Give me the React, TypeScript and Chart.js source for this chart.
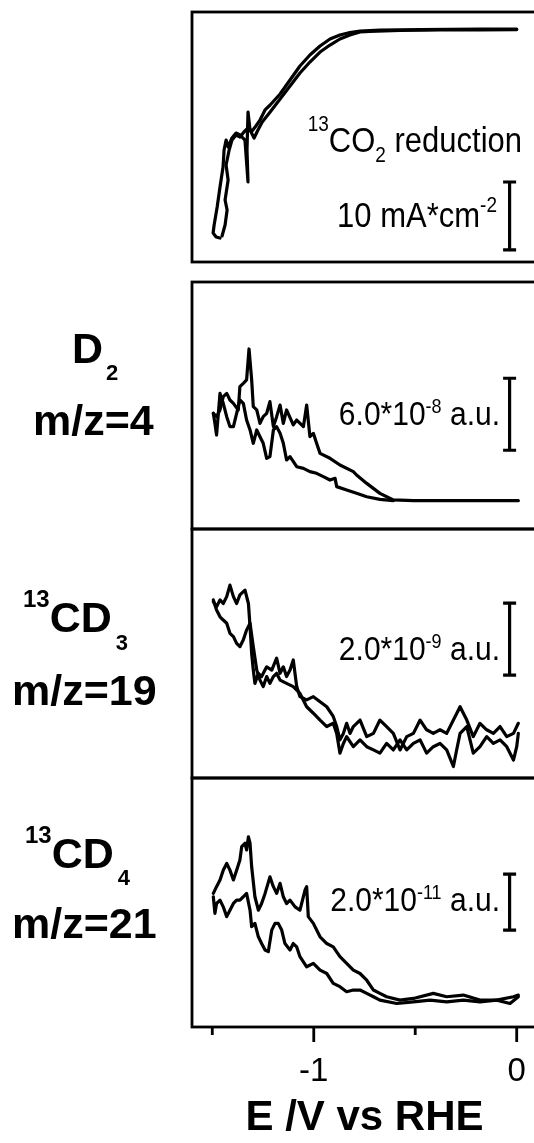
import React, { useEffect, useRef } from 'react';
import { Chart, registerables } from 'chart.js';

Chart.register(...registerables);

const FONT = '"Liberation Sans", Arial, Helvetica, sans-serif';

// ---------- shared potential axis ----------
const E_MIN = -1.6;
const E_MAX = 0.1;
const E_TICKS = [-1.5, -1, -0.5, 0];
const E_TICK_LABELS = ['', '-1', '', '0'];
const E_AXIS_TITLE = 'E /V vs RHE';

// ---------- panel 1: 13CO2 reduction current (mA cm^-2) ----------
const CV_FWD_E = [0.0, -0.18, -0.38, -0.575, -0.723, -0.772, -0.822, -0.871, -0.92, -0.969, -1.019, -1.068, -1.117, -1.166, -1.215, -1.254, -1.275, -1.294, -1.314, -1.324, -1.329, -1.324, -1.339, -1.363, -1.383, -1.403, -1.422, -1.432, -1.442, -1.447, -1.462, -1.476, -1.491, -1.496, -1.481, -1.462];
const CV_FWD_J = [0.07, 0.0, 0.0, -0.07, -0.22, -0.29, -0.74, -1.32, -2.21, -3.24, -4.71, -6.32, -8.24, -10.15, -12.06, -13.53, -14.71, -15.88, -14.71, -12.06, -17.65, -22.35, -16.18, -15.44, -15.15, -15.88, -17.21, -16.18, -17.65, -20.15, -23.09, -26.03, -28.68, -29.85, -30.44, -30.59];
const CV_REV_E = [-1.452, -1.437, -1.427, -1.437, -1.422, -1.432, -1.417, -1.403, -1.383, -1.363, -1.344, -1.324, -1.304, -1.285, -1.265, -1.24, -1.215, -1.166, -1.117, -1.068, -1.019, -0.969, -0.92, -0.871, -0.822, -0.772, -0.674, -0.477, -0.181, 0.0];
const CV_REV_J = [-30.29, -28.68, -26.47, -25.0, -22.06, -19.85, -17.65, -16.18, -15.44, -15.74, -15.0, -14.41, -14.85, -14.12, -13.24, -11.76, -11.03, -9.41, -7.35, -5.29, -3.68, -2.35, -1.32, -0.74, -0.37, -0.15, 0.0, 0.07, 0.15, 0.15];

// ---------- panel 2: D2, m/z=4 (1e-8 a.u.) ----------
const D2_A_E = [-1.495, -1.479, -1.462, -1.446, -1.429, -1.413, -1.396, -1.372, -1.364, -1.347, -1.331, -1.319, -1.306, -1.298, -1.281, -1.265, -1.249, -1.232, -1.216, -1.199, -1.183, -1.166, -1.15, -1.134, -1.101, -1.084, -1.051, -1.035, -1.019, -1.002, -0.986, -0.969, -0.92, -0.871, -0.805, -0.789, -0.739, -0.674, -0.608, -0.509, -0.345, -0.181, 0.008];
const D2_A_I = [7.28, 7.0, 7.56, 8.67, 8.94, 8.39, 8.11, 7.56, 9.5, 9.78, 10.06, 12.64, 10.06, 7.83, 7.56, 6.44, 7.0, 7.28, 8.25, 6.17, 7.0, 7.97, 6.44, 7.56, 6.31, 6.72, 6.17, 7.97, 5.33, 5.61, 4.78, 3.94, 3.53, 2.97, 2.42, 2.14, 1.44, 0.61, 0.06, 0, 0, 0, 0];
const D2_B_E = [-1.495, -1.487, -1.479, -1.462, -1.446, -1.429, -1.413, -1.396, -1.38, -1.364, -1.347, -1.331, -1.314, -1.298, -1.281, -1.265, -1.249, -1.232, -1.216, -1.199, -1.183, -1.166, -1.15, -1.134, -1.117, -1.084, -1.051, -1.019, -0.986, -0.953, -0.92, -0.895, -0.887, -0.838, -0.789, -0.739, -0.674, -0.608];
const D2_B_I = [7.28, 6.44, 5.47, 8.94, 8.11, 7.0, 6.17, 6.17, 7.28, 8.39, 8.11, 6.72, 5.89, 4.78, 5.89, 5.33, 4.78, 3.53, 3.67, 5.89, 6.17, 5.61, 4.78, 3.39, 3.67, 2.83, 2.69, 2.42, 2.28, 2.0, 1.72, 1.86, 1.17, 0.89, 0.61, 0.33, 0.11, 0];

// ---------- panel 3: 13CD3, m/z=19 (1e-9 a.u.) ----------
const CD3_A_E = [-1.495, -1.479, -1.462, -1.446, -1.429, -1.413, -1.396, -1.38, -1.364, -1.339, -1.322, -1.314, -1.306, -1.298, -1.29, -1.273, -1.257, -1.232, -1.207, -1.183, -1.166, -1.15, -1.134, -1.117, -1.101, -1.084, -1.068, -1.035, -1.002, -0.969, -0.936, -0.904, -0.887, -0.871, -0.854, -0.838, -0.821, -0.805, -0.772, -0.739, -0.706, -0.674, -0.641, -0.608, -0.575, -0.542, -0.509, -0.476, -0.444, -0.411, -0.378, -0.345, -0.312, -0.279, -0.246, -0.214, -0.181, -0.148, -0.115, -0.082, -0.049, -0.016, 0.008];
const CD3_A_I = [3.75, 3.61, 3.8, 3.7, 3.89, 4.21, 3.89, 3.7, 3.94, 4.07, 3.7, 3.06, 2.31, 1.85, 1.48, 1.76, 1.67, 1.94, 1.85, 2.18, 1.76, 1.94, 1.67, 1.85, 2.13, 1.39, 1.11, 1.02, 1.11, 0.97, 0.83, 0.56, 0.28, -0.09, 0.09, 0.37, 0.09, 0.28, 0.46, 0, 0.09, 0.46, 0.28, 0.09, -0.37, 0, 0.09, 0.46, 0.19, 0.09, 0.19, 0.09, 0.46, 0.83, 0.46, 0, 0.37, 0.19, 0.09, 0.28, 0, 0.09, 0.37];
const CD3_B_E = [-1.495, -1.479, -1.462, -1.446, -1.429, -1.413, -1.396, -1.38, -1.364, -1.347, -1.331, -1.314, -1.298, -1.281, -1.265, -1.249, -1.232, -1.216, -1.199, -1.183, -1.166, -1.134, -1.101, -1.068, -1.035, -1.002, -0.969, -0.936, -0.904, -0.887, -0.871, -0.854, -0.838, -0.805, -0.772, -0.739, -0.706, -0.674, -0.641, -0.608, -0.575, -0.542, -0.509, -0.476, -0.444, -0.411, -0.378, -0.345, -0.312, -0.296, -0.279, -0.246, -0.214, -0.181, -0.148, -0.115, -0.082, -0.049, -0.016, 0.0, 0.008];
const CD3_B_I = [3.8, 3.52, 3.33, 3.24, 3.15, 2.87, 2.78, 2.59, 2.5, 2.69, 2.96, 3.15, 2.5, 1.85, 1.57, 1.39, 1.67, 1.48, 1.67, 1.76, 1.57, 1.48, 1.39, 1.2, 0.83, 0.65, 0.46, 0.28, 0.37, 0.09, -0.46, -0.19, 0, -0.28, -0.09, -0.28, -0.37, -0.46, -0.19, -0.37, -0.09, -0.37, -0.19, -0.09, -0.46, -0.28, -0.19, -0.37, -0.83, -0.37, 0.09, 0.28, -0.46, -0.28, 0, -0.19, -0.09, -0.28, -0.65, -0.28, 0.09];

// ---------- panel 4: 13CD4, m/z=21 (1e-11 a.u.) ----------
const CD4_A_E = [-1.495, -1.479, -1.462, -1.446, -1.429, -1.413, -1.396, -1.38, -1.364, -1.355, -1.339, -1.331, -1.322, -1.314, -1.306, -1.29, -1.273, -1.257, -1.24, -1.216, -1.199, -1.183, -1.166, -1.15, -1.134, -1.117, -1.092, -1.068, -1.043, -1.035, -1.027, -1.002, -0.969, -0.936, -0.904, -0.871, -0.838, -0.805, -0.772, -0.739, -0.706, -0.674, -0.641, -0.575, -0.509, -0.411, -0.345, -0.263, -0.181, -0.099, -0.016, 0.008];
const CD4_A_I = [3.81, 4.05, 4.29, 4.64, 4.88, 4.64, 4.29, 4.64, 5.0, 5.48, 5.6, 5.36, 5.83, 5.6, 4.76, 3.69, 3.21, 3.45, 3.81, 4.4, 4.05, 3.81, 4.17, 3.69, 3.45, 3.57, 3.33, 3.21, 3.93, 4.05, 2.98, 2.74, 2.26, 2.02, 1.9, 1.55, 1.31, 1.07, 0.95, 0.71, 0.36, 0.24, 0.12, 0, 0.06, 0.24, 0.12, 0.18, 0, 0, 0.12, 0.18];
const CD4_B_E = [-1.495, -1.487, -1.479, -1.462, -1.446, -1.429, -1.413, -1.396, -1.38, -1.364, -1.347, -1.331, -1.314, -1.306, -1.29, -1.273, -1.257, -1.24, -1.224, -1.207, -1.191, -1.175, -1.158, -1.142, -1.117, -1.101, -1.084, -1.068, -1.035, -1.002, -0.969, -0.936, -0.904, -0.871, -0.838, -0.805, -0.772, -0.739, -0.706, -0.674, -0.591, -0.509, -0.427, -0.345, -0.263, -0.181, -0.099, -0.033, 0.008];
const CD4_B_I = [3.69, 3.1, 3.45, 3.57, 3.33, 2.98, 3.21, 3.45, 3.57, 3.57, 3.69, 3.81, 3.21, 2.62, 2.74, 2.26, 2.02, 1.79, 1.73, 2.5, 2.74, 2.74, 2.5, 2.02, 1.79, 2.02, 1.9, 1.55, 1.19, 1.31, 1.07, 0.95, 0.6, 0.48, 0.3, 0.36, 0.36, 0.24, 0.12, 0, -0.12, -0.06, 0, -0.06, 0, -0.06, 0, -0.12, 0.12];

// ---------- scale bars (data units of each panel) ----------
const BAR_E = -0.035;
const BAR_LEN = [10, 6, 2, 2];
const BAR_BASE = [-32.35, 4.2, 1.71, 2.5];
const Y_RANGES: [number, number][] = [[-34.12, 2.65], [-2.36, 18.22], [-1.15, 5.77], [-0.96, 7.93]];

type Seg = { t: string; size: number; bold?: boolean; dy?: number; gap?: number };
type TextItem = { segs: Seg[]; x: number; y: number; align: 'left' | 'right'; sy?: number };

type PanelCfg = {
  top: number;
  bottom: number;
  series: [number[], number[]][];
  yr: [number, number];
  barLen: number;
  barBase: number;
  texts: TextItem[];
  showX: boolean;
};

const AXIS_H = 117;
const SY = 1.13;

const PANELS: PanelCfg[] = [
  {
    top: 12, bottom: 262,
    series: [[CV_FWD_E, CV_FWD_J], [CV_REV_E, CV_REV_J]],
    yr: Y_RANGES[0], barLen: BAR_LEN[0], barBase: BAR_BASE[0], showX: false,
    texts: [
      { segs: [{ t: '13', size: 19, dy: -21 }, { t: 'CO', size: 31 }, { t: '2', size: 19, dy: 10 }, { t: ' reduction', size: 31 }], x: 522, y: 152, align: 'right', sy: SY },
      { segs: [{ t: '10 mA*cm', size: 31 }, { t: '-2', size: 19, dy: -15 }], x: 497, y: 227, align: 'right', sy: SY },
    ],
  },
  {
    top: 282, bottom: 529,
    series: [[D2_A_E, D2_A_I], [D2_B_E, D2_B_I]],
    yr: Y_RANGES[1], barLen: BAR_LEN[1], barBase: BAR_BASE[1], showX: false,
    texts: [
      { segs: [{ t: '6.0*10', size: 30 }, { t: '-8', size: 18, dy: -12 }, { t: ' a.u.', size: 30 }], x: 500, y: 425, align: 'right', sy: SY },
      { segs: [{ t: 'D', size: 43, bold: true }, { t: '2', size: 22, bold: true, dy: 17, gap: 3 }], x: 72, y: 363, align: 'left' },
      { segs: [{ t: 'm/z=4', size: 43, bold: true }], x: 33, y: 435, align: 'left' },
    ],
  },
  {
    top: 529, bottom: 778,
    series: [[CD3_A_E, CD3_A_I], [CD3_B_E, CD3_B_I]],
    yr: Y_RANGES[2], barLen: BAR_LEN[2], barBase: BAR_BASE[2], showX: false,
    texts: [
      { segs: [{ t: '2.0*10', size: 30 }, { t: '-9', size: 18, dy: -12 }, { t: ' a.u.', size: 30 }], x: 500, y: 660, align: 'right', sy: SY },
      { segs: [{ t: '13', size: 24, bold: true, dy: -25 }, { t: 'CD', size: 43, bold: true }, { t: '3', size: 22, bold: true, dy: 18, gap: 4 }], x: 23, y: 632, align: 'left' },
      { segs: [{ t: 'm/z=19', size: 43, bold: true }], x: 12, y: 705, align: 'left' },
    ],
  },
  {
    top: 778, bottom: 1027,
    series: [[CD4_A_E, CD4_A_I], [CD4_B_E, CD4_B_I]],
    yr: Y_RANGES[3], barLen: BAR_LEN[3], barBase: BAR_BASE[3], showX: true,
    texts: [
      { segs: [{ t: '2.0*10', size: 30 }, { t: '-11', size: 18, dy: -12 }, { t: ' a.u.', size: 30 }], x: 500, y: 911, align: 'right', sy: SY },
      { segs: [{ t: '13', size: 24, bold: true, dy: -25 }, { t: 'CD', size: 43, bold: true }, { t: '4', size: 22, bold: true, dy: 17, gap: 4 }], x: 25, y: 868, align: 'left' },
      { segs: [{ t: 'm/z=21', size: 43, bold: true }], x: 12, y: 938, align: 'left' },
    ],
  },
];

const PAD = 4;
const CANVAS_W = 560;
const PLOT_LEFT = 192;
const PLOT_RIGHT_PAD = 23;

function fontOf(s: Seg) {
  return `${s.bold ? 'bold ' : ''}${s.size}px ${FONT}`;
}

function drawRich(ctx: CanvasRenderingContext2D, item: TextItem, offY: number) {
  let total = 0;
  const widths = item.segs.map((s) => {
    ctx.font = fontOf(s);
    const w = ctx.measureText(s.t).width + (s.gap || 0);
    total += w;
    return w;
  });
  let x = item.align === 'right' ? item.x - total : item.x;
  const sy = item.sy || 1;
  ctx.textAlign = 'left';
  ctx.textBaseline = 'alphabetic';
  ctx.fillStyle = '#000';
  item.segs.forEach((s, i) => {
    ctx.font = fontOf(s);
    ctx.save();
    ctx.translate(x + (s.gap || 0), item.y - offY + (s.dy || 0));
    ctx.scale(1, sy);
    ctx.fillText(s.t, 0, 0);
    ctx.restore();
    x += widths[i];
  });
}

function PanelChart({ cfg }: { cfg: PanelCfg }) {
  const ref = useRef<HTMLCanvasElement>(null);
  const canvasTop = cfg.top - PAD;
  const canvasH = cfg.bottom - cfg.top + PAD + (cfg.showX ? AXIS_H : PAD);

  useEffect(() => {
    const overlay = {
      id: 'overlay',
      afterDraw(chart: any) {
        const ctx: CanvasRenderingContext2D = chart.ctx;
        const { left, right, top, bottom } = chart.chartArea;
        const xs = chart.scales.x;
        const ys = chart.scales.y;
        ctx.save();
        ctx.strokeStyle = '#000';
        ctx.lineWidth = 2.8;
        ctx.strokeRect(left, top, right - left, bottom - top);
        // scale bar
        const bx = xs.getPixelForValue(BAR_E);
        const b0 = ys.getPixelForValue(cfg.barBase);
        const b1 = ys.getPixelForValue(cfg.barBase + cfg.barLen);
        ctx.lineWidth = 3.2;
        ctx.beginPath();
        ctx.moveTo(bx, b0);
        ctx.lineTo(bx, b1);
        ctx.moveTo(bx - 6.5, b0);
        ctx.lineTo(bx + 6.5, b0);
        ctx.moveTo(bx - 6.5, b1);
        ctx.lineTo(bx + 6.5, b1);
        ctx.stroke();
        // x tick marks
        if (cfg.showX) {
          ctx.lineWidth = 2.8;
          ctx.beginPath();
          E_TICKS.forEach((v, i) => {
            const px = xs.getPixelForValue(v);
            const len = E_TICK_LABELS[i] ? 15 : 8;
            ctx.moveTo(px, bottom);
            ctx.lineTo(px, bottom + len);
          });
          ctx.stroke();
        }
        cfg.texts.forEach((t) => drawRich(ctx, t, canvasTop));
        ctx.restore();
      },
    };

    const chart = new Chart(ref.current as HTMLCanvasElement, {
      type: 'scatter',
      data: {
        datasets: cfg.series.map(([xs, ys]) => ({
          data: xs.map((x, i) => ({ x, y: ys[i] })),
          showLine: true,
          borderColor: '#000',
          backgroundColor: '#000',
          borderWidth: 3.2,
          borderJoinStyle: 'round',
          borderCapStyle: 'round',
          pointRadius: 0,
          pointHoverRadius: 0,
          tension: 0,
          fill: false,
        })),
      },
      options: {
        animation: false,
        responsive: false,
        maintainAspectRatio: false,
        events: [],
        layout: {
          padding: { left: PLOT_LEFT, right: PLOT_RIGHT_PAD, top: PAD, bottom: cfg.showX ? 0 : PAD },
        },
        plugins: { legend: { display: false }, tooltip: { enabled: false }, title: { display: false } },
        scales: {
          x: {
            type: 'linear',
            min: E_MIN,
            max: E_MAX,
            display: cfg.showX,
            position: 'bottom',
            afterBuildTicks: (s: any) => {
              s.ticks = E_TICKS.map((v) => ({ value: v }));
            },
            afterFit: (s: any) => {
              if (cfg.showX) s.height = AXIS_H;
            },
            grid: { display: false, drawTicks: false },
            border: { display: false },
            ticks: {
              autoSkip: false,
              maxRotation: 0,
              padding: 25,
              color: '#000',
              font: { size: 33, family: FONT },
              callback: (v: any) => {
                const idx = E_TICKS.indexOf(Number(v));
                return idx >= 0 ? E_TICK_LABELS[idx] : '';
              },
            },
            title: {
              display: cfg.showX,
              text: E_AXIS_TITLE,
              color: '#000',
              padding: 0,
              font: { size: 42, weight: 'bold', family: FONT },
            },
          },
          y: {
            type: 'linear',
            min: cfg.yr[0],
            max: cfg.yr[1],
            display: false,
          },
        },
      } as any,
      plugins: [overlay],
    });
    return () => chart.destroy();
  }, []);

  return (
    <canvas
      ref={ref}
      width={CANVAS_W}
      height={canvasH}
      style={{ position: 'absolute', left: 0, top: canvasTop, width: CANVAS_W, height: canvasH }}
    />
  );
}

export default function App() {
  return (
    <div
      style={{
        position: 'absolute',
        left: 0,
        top: 0,
        width: 534,
        height: 1143,
        overflow: 'hidden',
        background: '#fff',
      }}
    >
      {PANELS.map((p, i) => (
        <PanelChart key={i} cfg={p} />
      ))}
    </div>
  );
}
